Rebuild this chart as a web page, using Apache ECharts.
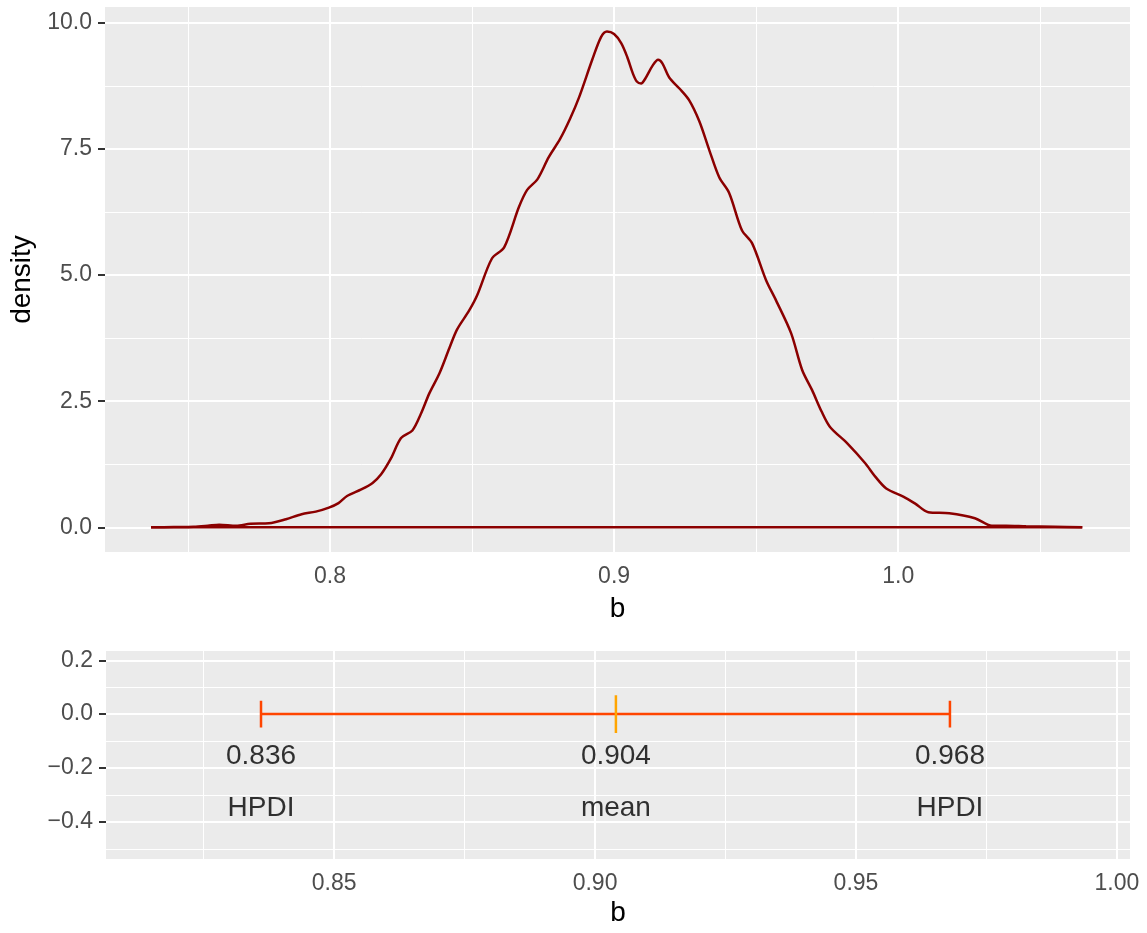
<!DOCTYPE html>
<html>
<head>
<meta charset="utf-8">
<script src="https://cdn.jsdelivr.net/npm/echarts@6/dist/echarts.min.js"></script>
<style>
  html, body { margin: 0; padding: 0; background: #fff; }
  #main { width: 1147px; height: 933px; }
</style>
</head>
<body>
<div id="main"></div>
<script>
// density of b
var densityB = [0.737, 0.745, 0.752, 0.757, 0.761, 0.767, 0.772, 0.7785, 0.7845, 0.790,
  0.795, 0.7996, 0.803, 0.806, 0.811, 0.815, 0.818, 0.8215, 0.825, 0.829,
  0.832, 0.835, 0.8385, 0.842, 0.8447, 0.849, 0.8518, 0.857, 0.8613, 0.8665,
  0.8694, 0.873, 0.877, 0.881, 0.8845, 0.8877, 0.8923, 0.8954, 0.8975, 0.900,
  0.9025, 0.9046, 0.9066, 0.908, 0.9095, 0.911, 0.9135, 0.9155, 0.917, 0.9194,
  0.9230, 0.9264, 0.930, 0.9335, 0.937, 0.9405, 0.945, 0.9486, 0.9535, 0.957,
  0.9623, 0.9662, 0.9697, 0.973, 0.976, 0.982, 0.9884, 0.992, 0.9958, 1.0018,
  1.006, 1.0106, 1.018, 1.027, 1.033, 1.038, 1.045, 1.055, 1.0648];
var densityD = [0.0, 0.005, 0.01, 0.03, 0.05, 0.03, 0.07, 0.08, 0.16, 0.26,
  0.31, 0.39, 0.48, 0.62, 0.75, 0.88, 1.05, 1.37, 1.77, 1.92,
  2.25, 2.66, 3.05, 3.55, 3.92, 4.3, 4.6, 5.33, 5.55, 6.35,
  6.69, 6.9, 7.34, 7.7, 8.1, 8.53, 9.27, 9.72, 9.83, 9.78,
  9.6, 9.33, 9.0, 8.84, 8.8, 8.9, 9.15, 9.27, 9.2, 8.92,
  8.7, 8.47, 8.05, 7.48, 6.94, 6.63, 5.89, 5.63, 4.9, 4.5,
  3.85, 3.12, 2.72, 2.3, 1.99, 1.67, 1.27, 1.0, 0.77, 0.61,
  0.47, 0.30, 0.28, 0.18, 0.03, 0.03, 0.02, 0.01, 0.0];

// interval panel
var hpdiLow = 0.836;
var meanB = 0.904;
var hpdiHigh = 0.968;
var markNames = ['HPDI', 'mean', 'HPDI'];

// ticks / grid lines
var topXTicks = [0.8, 0.9, 1.0];
var topXMinor = [0.75, 0.85, 0.95, 1.05];
var topYTicks = [0, 2.5, 5, 7.5, 10];
var topYMinor = [1.25, 3.75, 6.25, 8.75];
var botXTicks = [0.85, 0.90, 0.95, 1.00];
var botXMinor = [0.825, 0.875, 0.925, 0.975];
var botYTicks = [-0.4, -0.2, 0, 0.2];
var botYMinor = [-0.5, -0.3, -0.1, 0.1];

var FONT = '"Liberation Sans", Arial, sans-serif';
var curveColor = '#8B0000';
var barColor = '#FF4500';
var meanColor = '#FFA500';

function gridLines(majX, minX, majY, minY) {
  var d = [];
  minX.forEach(function (v) { d.push({ xAxis: v, lineStyle: { width: 1 } }); });
  minY.forEach(function (v) { d.push({ yAxis: v, lineStyle: { width: 1 } }); });
  majX.forEach(function (v) { d.push({ xAxis: v, lineStyle: { width: 2 } }); });
  majY.forEach(function (v) { d.push({ yAxis: v, lineStyle: { width: 2 } }); });
  return {
    silent: true, z: 1, precision: 4, symbol: ['none', 'none'],
    label: { show: false },
    lineStyle: { color: '#ffffff', type: 'solid' },
    emphasis: { disabled: true },
    data: d
  };
}

function axisBase(ticks, fmt) {
  return {
    axisLine: { show: false },
    axisTick: { show: true, customValues: ticks, length: 7, lineStyle: { color: '#333333', width: 2 } },
    axisLabel: { customValues: ticks, formatter: fmt, color: '#4D4D4D', fontSize: 23, fontFamily: FONT, margin: 13 },
    splitLine: { show: false },
    minorSplitLine: { show: false }
  };
}

var densityPts = densityB.map(function (b, i) { return [b, densityD[i]]; });
var basePts = [[densityB[0], 0], [densityB[densityB.length - 1], 0]];

var xTop = axisBase(topXTicks, function (v) { return v.toFixed(1); });
xTop.type = 'value'; xTop.gridIndex = 0; xTop.min = 0.7208; xTop.max = 1.0816;
xTop.name = 'b'; xTop.nameLocation = 'middle'; xTop.nameGap = 43;
xTop.nameTextStyle = { fontSize: 28, color: '#000', fontFamily: FONT };

var yTop = axisBase(topYTicks, function (v) { return v.toFixed(1); });
yTop.type = 'value'; yTop.gridIndex = 0; yTop.min = -0.49; yTop.max = 10.317;
yTop.name = 'density'; yTop.nameLocation = 'middle'; yTop.nameGap = 66;
yTop.nameTextStyle = { fontSize: 28, color: '#000', fontFamily: FONT };

var xBot = axisBase(botXTicks, function (v) { return v.toFixed(2); });
xBot.type = 'value'; xBot.gridIndex = 1; xBot.min = 0.8063; xBot.max = 1.0025;
xBot.name = 'b'; xBot.nameLocation = 'middle'; xBot.nameGap = 40;
xBot.nameTextStyle = { fontSize: 28, color: '#000', fontFamily: FONT };

var yBot = axisBase(botYTicks, function (v) { return v.toFixed(1).replace('-', '\u2212'); });
yBot.type = 'value'; yBot.gridIndex = 1; yBot.min = -0.538; yBot.max = 0.2344;

var markVals = [hpdiLow, meanB, hpdiHigh];
var textLabel = {
  show: true, position: 'inside', color: '#000000', fontSize: 28, fontFamily: FONT,
  formatter: function (p) { return p.value[2]; }
};

var chart = echarts.init(document.getElementById('main'));
chart.setOption({
  animation: false,
  textStyle: { fontFamily: FONT },
  grid: [
    { left: 105, top: 7, width: 1025, height: 545, show: true, backgroundColor: '#EBEBEB', borderWidth: 0 },
    { left: 106, top: 651, width: 1024, height: 208, show: true, backgroundColor: '#EBEBEB', borderWidth: 0 }
  ],
  xAxis: [xTop, xBot],
  yAxis: [yTop, yBot],
  series: [
    { type: 'line', xAxisIndex: 0, yAxisIndex: 0, data: [], z: 1, markLine: gridLines(topXTicks, topXMinor, topYTicks, topYMinor) },
    { type: 'line', xAxisIndex: 1, yAxisIndex: 1, data: [], z: 1, markLine: gridLines(botXTicks, botXMinor, botYTicks, botYMinor) },
    { type: 'line', xAxisIndex: 0, yAxisIndex: 0, data: basePts, z: 3, symbol: 'none', silent: true,
      lineStyle: { color: curveColor, width: 2.5 } },
    { type: 'line', xAxisIndex: 0, yAxisIndex: 0, data: densityPts, z: 4, symbol: 'none', smooth: 0.3, silent: true,
      lineStyle: { color: curveColor, width: 2.5 } },
    { type: 'line', xAxisIndex: 1, yAxisIndex: 1, data: [[hpdiLow, 0], [hpdiHigh, 0]], z: 3, symbol: 'none', silent: true,
      lineStyle: { color: barColor, width: 2.5 } },
    { type: 'line', xAxisIndex: 1, yAxisIndex: 1, data: [[hpdiLow, -0.05], [hpdiLow, 0.05]], z: 3, symbol: 'none', silent: true,
      lineStyle: { color: barColor, width: 2.5 } },
    { type: 'line', xAxisIndex: 1, yAxisIndex: 1, data: [[hpdiHigh, -0.05], [hpdiHigh, 0.05]], z: 3, symbol: 'none', silent: true,
      lineStyle: { color: barColor, width: 2.5 } },
    { type: 'line', xAxisIndex: 1, yAxisIndex: 1, data: [[meanB, -0.07], [meanB, 0.07]], z: 4, symbol: 'none', silent: true,
      lineStyle: { color: meanColor, width: 2.5 } },
    { type: 'scatter', xAxisIndex: 1, yAxisIndex: 1, symbolSize: 0, silent: true, z: 5, label: textLabel,
      data: markVals.map(function (v) { return [v, -0.155, v.toFixed(3)]; }) },
    { type: 'scatter', xAxisIndex: 1, yAxisIndex: 1, symbolSize: 0, silent: true, z: 5, label: textLabel,
      data: markVals.map(function (v, i) { return [v, -0.35, markNames[i]]; }) }
  ]
});
</script>
</body>
</html>
